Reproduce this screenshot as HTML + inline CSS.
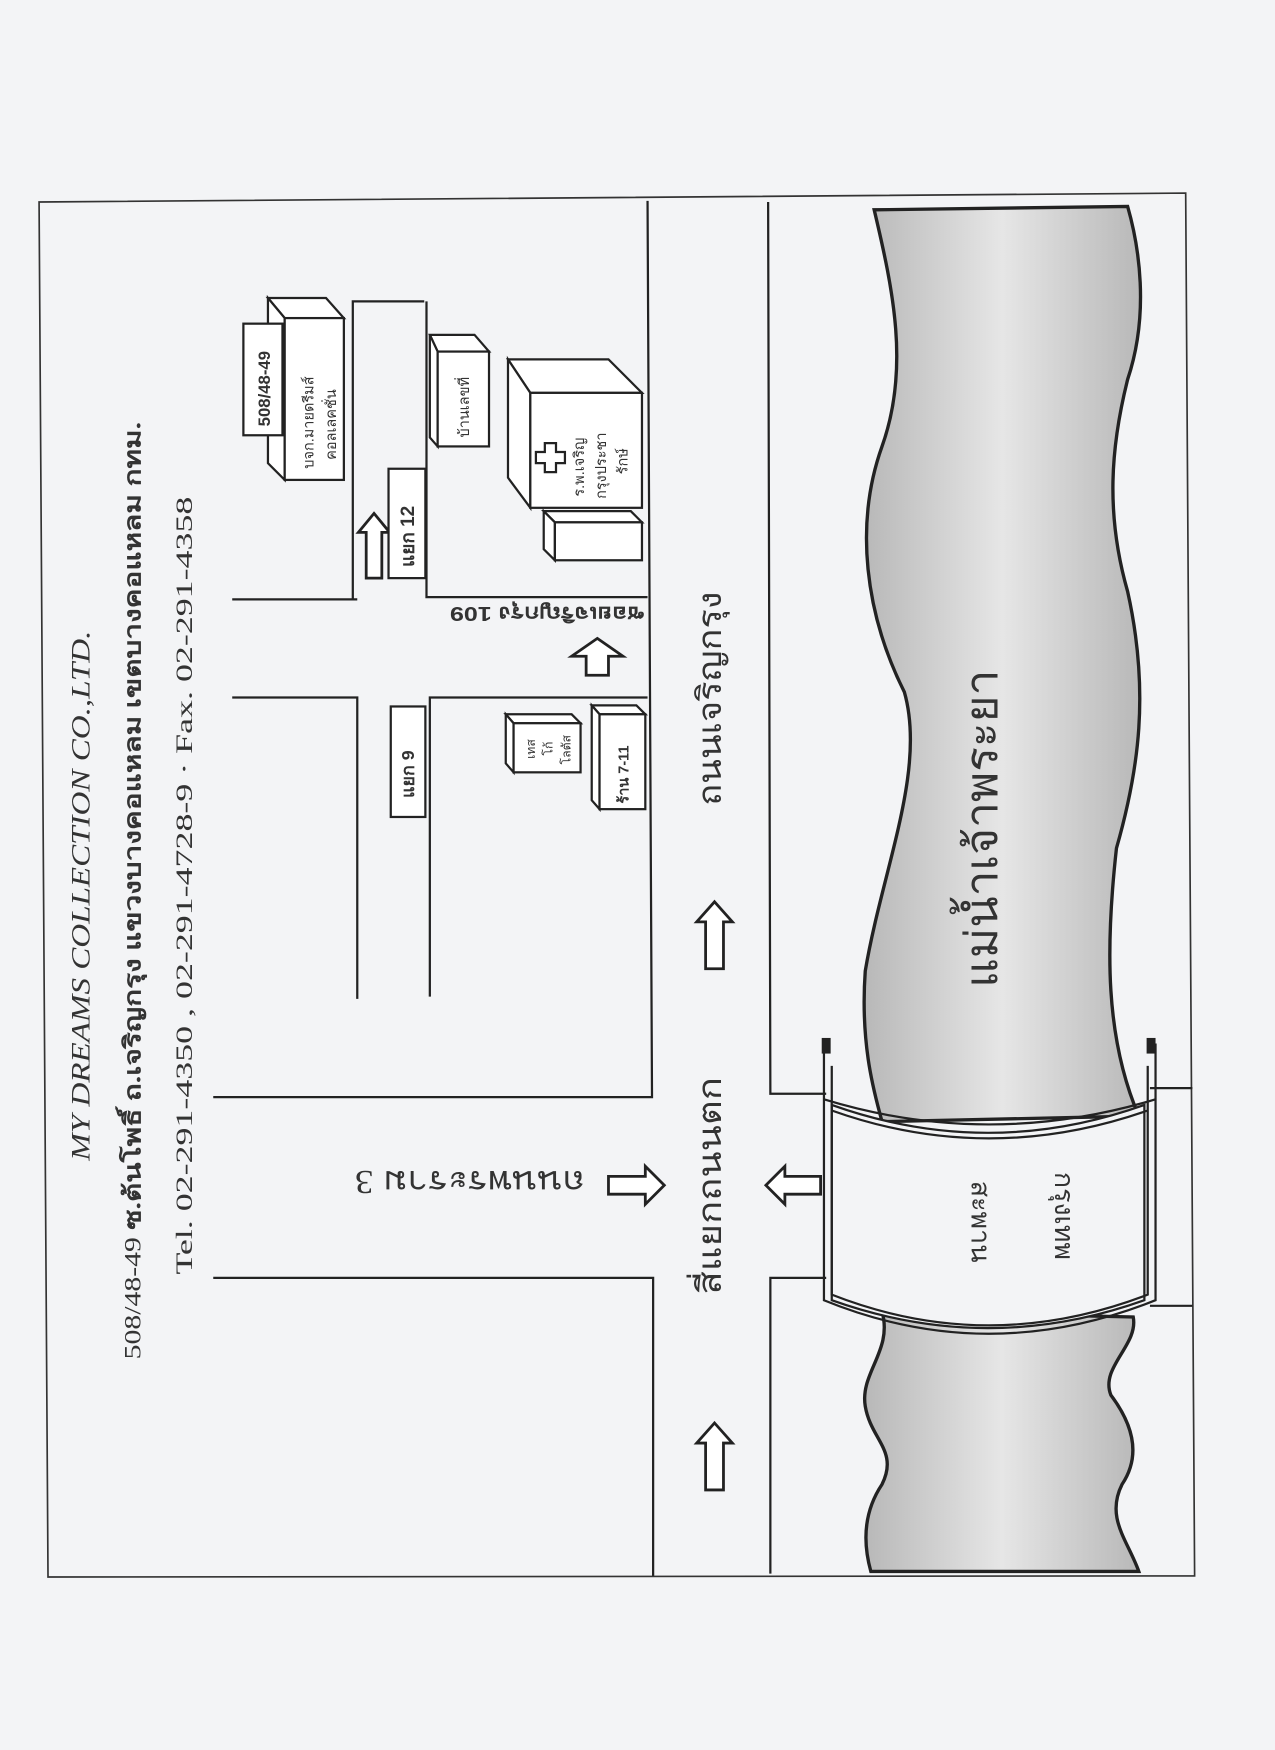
<!DOCTYPE html>
<html><head><meta charset="utf-8"><style>
html,body{margin:0;padding:0;background:#f3f4f6;}
svg{display:block}
text{font-family:"Liberation Serif","DejaVu Sans",sans-serif;fill:#333}
.s{font-family:"Liberation Sans","DejaVu Sans",sans-serif}
</style></head><body>
<svg width="1275" height="1750" viewBox="0 0 1142 1568" preserveAspectRatio="none" xmlns="http://www.w3.org/2000/svg">
<defs>
<linearGradient id="g" x1="0" y1="0" x2="1" y2="0">
<stop offset="0" stop-color="#b8b8b8"/><stop offset="0.5" stop-color="#e6e6e6"/><stop offset="1" stop-color="#b8b8b8"/>
</linearGradient>
</defs>
<rect width="1142" height="1568" fill="#f3f4f6"/>
<polygon points="35,181 1062,173 1070,1412 43,1413" fill="none" stroke="#333" stroke-width="1.5"/>
<g stroke="#222" stroke-width="2" fill="none">
<polyline points="580,180 584,983 191,983"/>
<polyline points="191,1145 585,1145 585,1412"/>
<polyline points="688,181 690,980 740,980"/>
<polyline points="740,1145 690,1145 690,1410"/>
<line x1="1030" y1="975" x2="1068" y2="975"/>
<line x1="1030" y1="1170" x2="1068" y2="1170"/>
<line x1="208" y1="537" x2="320" y2="537"/>
<polyline points="316,537 316,270 380,270"/>
<polyline points="382,270 382,535 580,535"/>
<polyline points="208,625 320,625 320,895"/>
<polyline points="385,893 385,625 580,625"/>
</g>
<path d="M783,188 C800,260 815,330 790,400 C765,470 775,550 810,620 C830,690 790,780 775,870 C770,940 785,985 790,1005 L1020,1000 C990,930 990,850 1000,760 C1020,690 1030,620 1010,530 C990,460 995,400 1010,340 C1030,280 1020,220 1010,185 Z" fill="url(#g)" stroke="#222" stroke-width="3"/>
<path d="M790,1175 C800,1210 770,1230 775,1260 C780,1290 805,1300 790,1330 C770,1360 775,1390 780,1408 L1020,1408 C1010,1380 990,1360 1005,1330 C1025,1300 1010,1270 995,1250 C985,1225 1020,1205 1015,1180 Z" fill="url(#g)" stroke="#222" stroke-width="3"/>
<g stroke="#222" fill="none" stroke-width="2">
<path d="M745,990 Q885,1040 1025,990 L1025,1165 Q885,1215 745,1165 Z" fill="#f3f4f6"/>
<path d="M738,935 L738,1165 Q885,1225 1035,1165 L1035,935" />
<path d="M745,955 L745,1160 Q885,1215 1028,1160 L1028,955" />
<path d="M738,985 Q885,1030 1035,985"/>
<path d="M745,995 Q885,1045 1028,995"/>
</g>
<rect x="736" y="930" width="8" height="14" fill="#222"/>
<rect x="1027" y="930" width="8" height="14" fill="#222"/>
<g fill="#fff" stroke="#222" stroke-width="2.5">
<path d="M640,808 L656,826 L648,826 L648,868 L632,868 L632,826 L624,826 Z"/>
<path d="M640,1275 L656,1293 L648,1293 L648,1335 L632,1335 L632,1293 L624,1293 Z"/>
<path d="M335,460 L349,477 L342,477 L342,518 L328,518 L328,477 L321,477 Z"/>
<path d="M535,572 L558,588 L545,588 L545,605 L525,605 L525,588 L512,588 Z"/>
<path d="M595,1062 L578,1045 L578,1054 L545,1054 L545,1070 L578,1070 L578,1079 Z"/>
<path d="M686,1062 L703,1045 L703,1054 L735,1054 L735,1070 L703,1070 L703,1079 Z"/>
</g>
<g stroke="#222" stroke-width="2" fill="#fff">
<polygon points="240,267 292,267 308,285 255,285"/>
<polygon points="240,267 255,285 255,430 240,415"/>
<rect x="255" y="285" width="53" height="145"/>
<rect x="218" y="290" width="35" height="100"/>
<polygon points="385,300 425,300 438,315 392,315"/>
<polygon points="385,300 392,315 392,400 385,392"/>
<rect x="392" y="315" width="46" height="85"/>
<polygon points="455,322 545,322 575,352 475,352"/>
<polygon points="455,322 475,352 475,455 455,428"/>
<rect x="475" y="352" width="100" height="103"/>
<polygon points="487,458 565,458 575,468 497,468"/>
<polygon points="487,458 497,468 497,502 487,492"/>
<rect x="497" y="468" width="78" height="34"/>
<path d="M480,405 h8 v-8 h10 v8 h8 v10 h-8 v8 h-10 v-8 h-8 Z"/>
<rect x="348" y="420" width="33" height="98"/>
<rect x="350" y="633" width="31" height="99"/>
<polygon points="453,640 512,640 520,648 460,648"/>
<polygon points="453,640 460,648 460,692 453,684"/>
<rect x="460" y="648" width="60" height="44"/>
<polygon points="530,632 570,632 578,640 537,640"/>
<polygon points="530,632 537,640 537,725 530,717"/>
<rect x="537" y="640" width="41" height="85"/>
</g>
<g>
<text transform="translate(80,1040) rotate(-90)" font-size="24" font-style="italic" textLength="475" lengthAdjust="spacingAndGlyphs">MY DREAMS COLLECTION CO.,LTD.</text>
<text transform="translate(126,1218) rotate(-90)" font-size="21" textLength="840" lengthAdjust="spacingAndGlyphs">508/48-49 <tspan font-weight="bold">ซ.ต้นโพธิ์ ถ.เจริญกรุง แขวงบางคอแหลม เขตบางคอแหลม กทม.</tspan></text>
<text transform="translate(172,1142) rotate(-90)" font-size="21" textLength="697" lengthAdjust="spacingAndGlyphs">Tel. 02-291-4350 , 02-291-4728-9 · Fax. 02-291-4358</text>
<text transform="translate(646,1160) rotate(-90)" font-size="30" textLength="195" lengthAdjust="spacingAndGlyphs">สี่แยกถนนตก</text>
<text transform="translate(646,722) rotate(-90)" font-size="30" textLength="192" lengthAdjust="spacingAndGlyphs">ถนนเจริญกรุง</text>
<text transform="translate(893,885) rotate(-90)" font-size="40" textLength="285" lengthAdjust="spacingAndGlyphs">แม่น้ำเจ้าพระยา</text>
<text class="s" transform="translate(242,382) rotate(-90)" font-size="15" font-weight="bold">508/48-49</text>
<text class="s" transform="translate(281,420) rotate(-90)" font-size="13">บจก.มายดรีมส์</text>
<text class="s" transform="translate(301,412) rotate(-90)" font-size="13">คอลเลคชั่น</text>
<text class="s" transform="translate(420,392) rotate(-90)" font-size="13">บ้านเลขที่</text>
<text class="s" transform="translate(523,445) rotate(-90)" font-size="13">ร.พ.เจริญ</text>
<text class="s" transform="translate(543,447) rotate(-90)" font-size="13">กรุงประชา</text>
<text class="s" transform="translate(562,425) rotate(-90)" font-size="13">รักษ์</text>
<text class="s" transform="translate(371,508) rotate(-90)" font-size="17" font-weight="bold">แยก 12</text>
<text class="s" transform="translate(371,715) rotate(-90)" font-size="16" font-weight="bold">แยก 9</text>
<text class="s" transform="translate(479,680) rotate(-90)" font-size="11">เทส</text>
<text class="s" transform="translate(495,677) rotate(-90)" font-size="11">โก้</text>
<text class="s" transform="translate(511,685) rotate(-90)" font-size="11">โลตัส</text>
<text class="s" transform="translate(563,720) rotate(-90)" font-size="13" font-weight="bold">ร้าน 7-11</text>
</g>
<text transform="translate(524,1049) rotate(180)" font-size="30" textLength="206" lengthAdjust="spacingAndGlyphs">ถนนพระราม 3</text>
<text class="s" transform="translate(577,544) rotate(180)" font-size="18" font-weight="bold" textLength="174" lengthAdjust="spacingAndGlyphs">ซอยเจริญกรุง 109</text>
<text transform="translate(870,1058) rotate(90)" font-size="24">สะพาน</text>
<text transform="translate(945,1050) rotate(90)" font-size="24">กรุงเทพ</text>
</svg>
</body></html>
